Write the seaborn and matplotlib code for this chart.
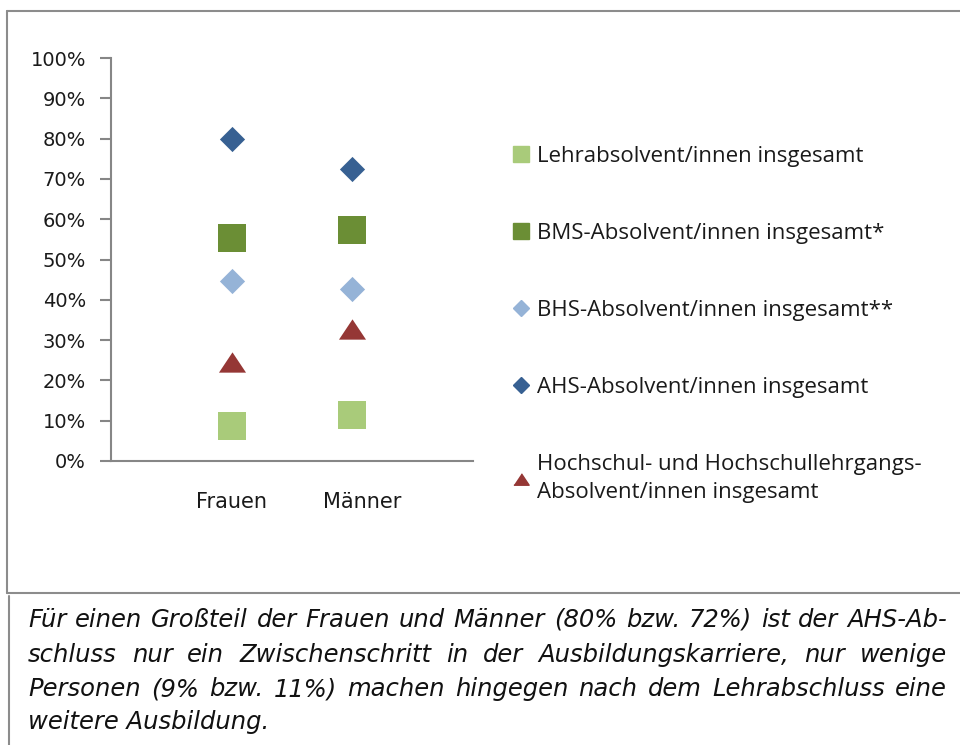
import pandas as pd
import matplotlib.pyplot as plt
import seaborn as sns
from matplotlib.lines import Line2D
from matplotlib.ticker import PercentFormatter

# data (percent)
groups = ['Frauen', 'Männer']
series = ['Lehrabsolvent/innen insgesamt',
          'BMS-Absolvent/innen insgesamt*',
          'BHS-Absolvent/innen insgesamt**',
          'AHS-Absolvent/innen insgesamt',
          'Hochschul- und Hochschullehrgangs-\nAbsolvent/innen insgesamt']
lehr = [8.7, 11.3]
bms = [55.3, 57.3]
bhs = [44.7, 42.6]
ahs = [79.8, 72.5]
hochschul = [24.6, 32.8]
yticks = [0, 10, 20, 30, 40, 50, 60, 70, 80, 90, 100]

tri = [(-1, -0.75), (1, -0.75), (0, 0.75)]
colors = ['#A9CB7A', '#6B8E35', '#95B3D7', '#376092', '#953735']
markers = ['s', 's', 'D', 'D', tri]
sizes = [380, 380, 165, 165, 380]

caption_lines = [
    'Für einen Großteil der Frauen und Männer (80% bzw. 72%) ist der AHS-Ab-',
    'schluss nur ein Zwischenschritt in der Ausbildungskarriere, nur wenige',
    'Personen (9% bzw. 11%) machen hingegen nach dem Lehrabschluss eine',
    'weitere Ausbildung.',
]

rows = []
for name, vals in zip(series, [lehr, bms, bhs, ahs, hochschul]):
    for i, v in enumerate(vals):
        rows.append({'x': i, 'group': groups[i], 'series': name, 'value': v})
df = pd.DataFrame(rows)

sns.set_style('white')
plt.rcParams['font.family'] = ['DejaVu Sans']

W, H = 960, 745
fig = plt.figure(figsize=(W / 100, H / 100), dpi=100)
ax = fig.add_axes([111 / W, 1 - 461 / H, (473 - 111) / W, (461 - 58) / H])

for name, c, m, s in zip(series, colors, markers, sizes):
    sns.scatterplot(data=df[df['series'] == name], x='x', y='value', color=c,
                    marker=m, s=s, linewidth=0, ax=ax, zorder=3)

ax.set_xlim(-1.0, 2.0)
ax.set_ylim(0, 100)
ax.set_yticks(yticks)
ax.yaxis.set_major_formatter(PercentFormatter(decimals=0))
ax.set_xticks([0, 1.08])
ax.set_xticklabels(groups)
ax.set_xlabel('')
ax.set_ylabel('')
for sp in ['top', 'right']:
    ax.spines[sp].set_visible(False)
for sp in ['left', 'bottom']:
    ax.spines[sp].set_color('#868686')
    ax.spines[sp].set_linewidth(1.5)
ax.tick_params(axis='y', left=True, length=8, width=1.5, color='#868686',
               pad=10, labelsize=14, labelcolor='#1a1a1a')
ax.tick_params(axis='x', length=0, pad=22, labelsize=15, labelcolor='#1a1a1a')

# legend
handles = [Line2D([], [], linestyle='none', marker=m, color=c, markersize=ms)
           for c, m, ms in zip(colors, markers, [11, 11, 7.8, 7.8, 11])]
leg = fig.legend(handles, series, loc='upper left',
                 bbox_to_anchor=(494 / W, 1 - 126 / H), frameon=False,
                 handlelength=0.6, handletextpad=0.42, labelspacing=2.52,
                 prop={'family': 'Open Sans', 'size': 16})
for t in leg.get_texts():
    t.set_color('#1a1a1a')
    t.set_linespacing(1.45)

# borders
gray = '#8c8c8c'
fig.add_artist(Line2D([7 / W, 7 / W], [1 - 11 / H, 1 - 593 / H], color=gray, lw=1.5))
fig.add_artist(Line2D([7 / W, 1.0], [1 - 11 / H, 1 - 11 / H], color=gray, lw=1.5))
fig.add_artist(Line2D([7 / W, 1.0], [1 - 593 / H, 1 - 593 / H], color=gray, lw=1.5))
fig.add_artist(Line2D([9 / W, 9 / W], [1 - 596 / H, 0], color=gray, lw=1.5))

# caption, justified for the first three lines
fig.canvas.draw()
renderer = fig.canvas.get_renderer()
cap_font = {'family': 'DejaVu Sans', 'style': 'italic', 'color': '#111111'}

probe = fig.text(0, 0, caption_lines[0], size=10, **cap_font)
cap_size = 10 * 905 / probe.get_window_extent(renderer).width
probe.remove()

x0, x1 = 28, 947
line_y = [627, 662, 696, 729]
for k, (line, yy) in enumerate(zip(caption_lines, line_y)):
    words = line.split(' ')
    if k == len(caption_lines) - 1:
        fig.text(x0 / W, 1 - yy / H, line, va='baseline', ha='left',
                 size=cap_size, **cap_font)
        continue
    widths = []
    for w in words:
        t = fig.text(0, 0, w, size=cap_size, **cap_font)
        widths.append(t.get_window_extent(renderer).width)
        t.remove()
    gap = (x1 - x0 - sum(widths)) / (len(words) - 1)
    xx = x0
    for w, wd in zip(words, widths):
        fig.text(xx / W, 1 - yy / H, w, va='baseline', ha='left',
                 size=cap_size, **cap_font)
        xx += wd + gap

fig.savefig('out.png', dpi=100)
